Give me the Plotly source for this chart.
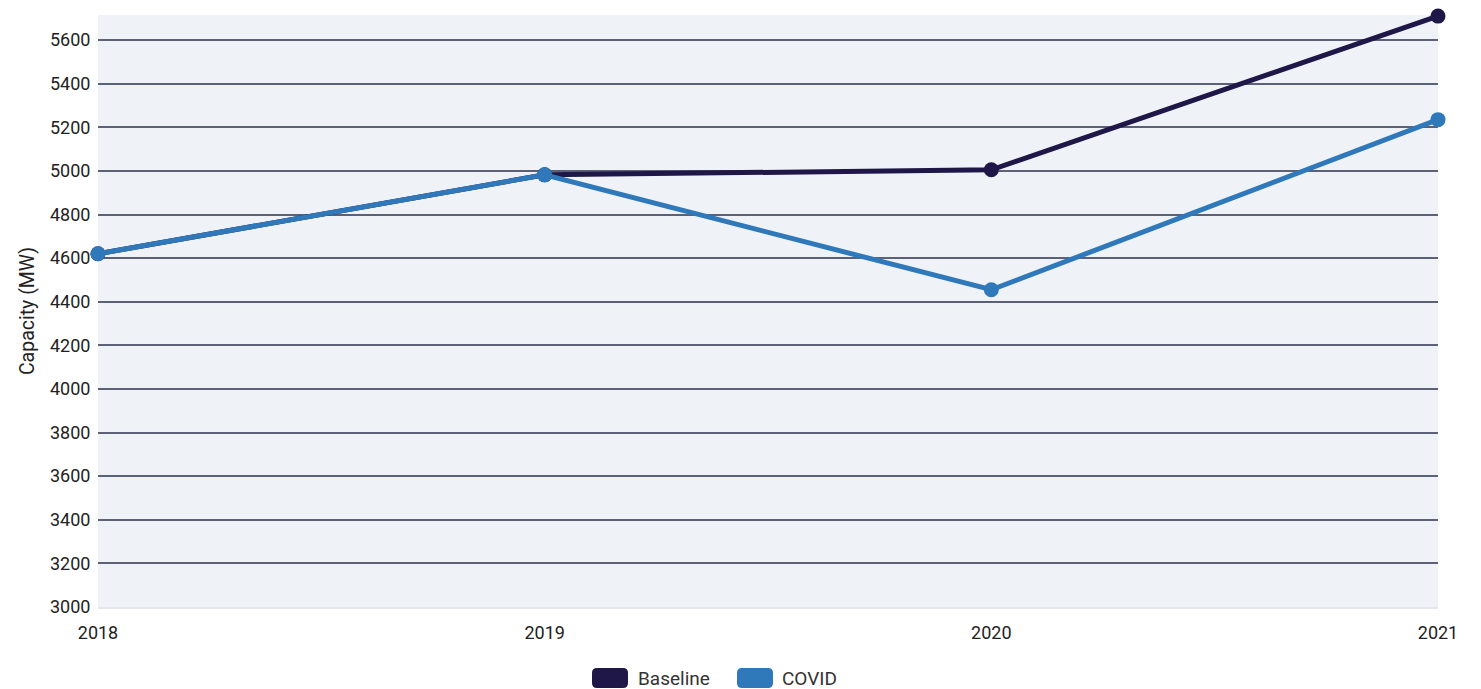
import plotly.graph_objects as go

years = [2018, 2019, 2020, 2021]
baseline = [4620, 4982, 5005, 5710]
covid = [4620, 4982, 4455, 5235]
y_ticks = list(range(3000, 5601, 200))
series_names = ["Baseline", "COVID"]
colors = ["#1f1748", "#2f78ba"]

W, H = 1481, 689
ML, MR, MT, MB = 98, 43, 15, 82
PW, PH = W - ML - MR, H - MT - MB

fig = go.Figure()
for name, vals, col in zip(series_names, [baseline, covid], colors):
    fig.add_trace(go.Scatter(
        x=years, y=vals, name=name, mode="lines+markers",
        line=dict(color=col, width=5),
        marker=dict(color=col, size=15),
        cliponaxis=False, showlegend=False,
    ))


def px_x(p):
    return (p - ML) / PW


def px_y(p):
    return (H - MB - p) / PH


def rounded_rect(x0, y0, x1, y1, r):
    pts = [
        f"M {px_x(x0 + r)} {px_y(y0)}",
        f"L {px_x(x1 - r)} {px_y(y0)}",
        f"Q {px_x(x1)} {px_y(y0)} {px_x(x1)} {px_y(y0 + r)}",
        f"L {px_x(x1)} {px_y(y1 - r)}",
        f"Q {px_x(x1)} {px_y(y1)} {px_x(x1 - r)} {px_y(y1)}",
        f"L {px_x(x0 + r)} {px_y(y1)}",
        f"Q {px_x(x0)} {px_y(y1)} {px_x(x0)} {px_y(y1 - r)}",
        f"L {px_x(x0)} {px_y(y0 + r)}",
        f"Q {px_x(x0)} {px_y(y0)} {px_x(x0 + r)} {px_y(y0)} Z",
    ]
    return " ".join(pts)


# custom legend (rounded swatches + text)
legend_items = [(592, 636), (737, 780)]
for (sx, tx), name, col in zip(legend_items, series_names, colors):
    fig.add_shape(type="path", xref="paper", yref="paper",
                  path=rounded_rect(sx, 668, sx + 36, 688, 5),
                  fillcolor=col, line=dict(width=0), layer="above")
    fig.add_annotation(x=px_x(tx), y=px_y(678), xref="paper", yref="paper",
                       text=name, showarrow=False, xanchor="left", yanchor="middle",
                       font=dict(size=19, color="#333333"))

fig.update_layout(
    width=W, height=H,
    margin=dict(l=ML, r=MR, t=MT, b=MB),
    paper_bgcolor="white", plot_bgcolor="#eff3f7",
    font=dict(family="Roboto", size=18, color="#222222"),
    showlegend=False,
)
fig.update_xaxes(
    range=[2018, 2021], tickvals=years, ticktext=[str(y) for y in years],
    showgrid=False, zeroline=False, showline=True, linecolor="#e4e7eb", linewidth=2,
    tickfont=dict(size=18), ticks="", ticklabelstandoff=8,
)
fig.update_yaxes(
    range=[3000, 5715], tickvals=y_ticks, ticktext=[str(v) for v in y_ticks],
    showgrid=True, gridcolor="#5c6179", gridwidth=2, zeroline=False,
    tickfont=dict(size=18), ticks="outside", ticklen=3, tickcolor="rgba(0,0,0,0)",
    title=dict(text="Capacity (MW)", font=dict(size=19.5), standoff=10),
)

fig.write_html("out.html")
